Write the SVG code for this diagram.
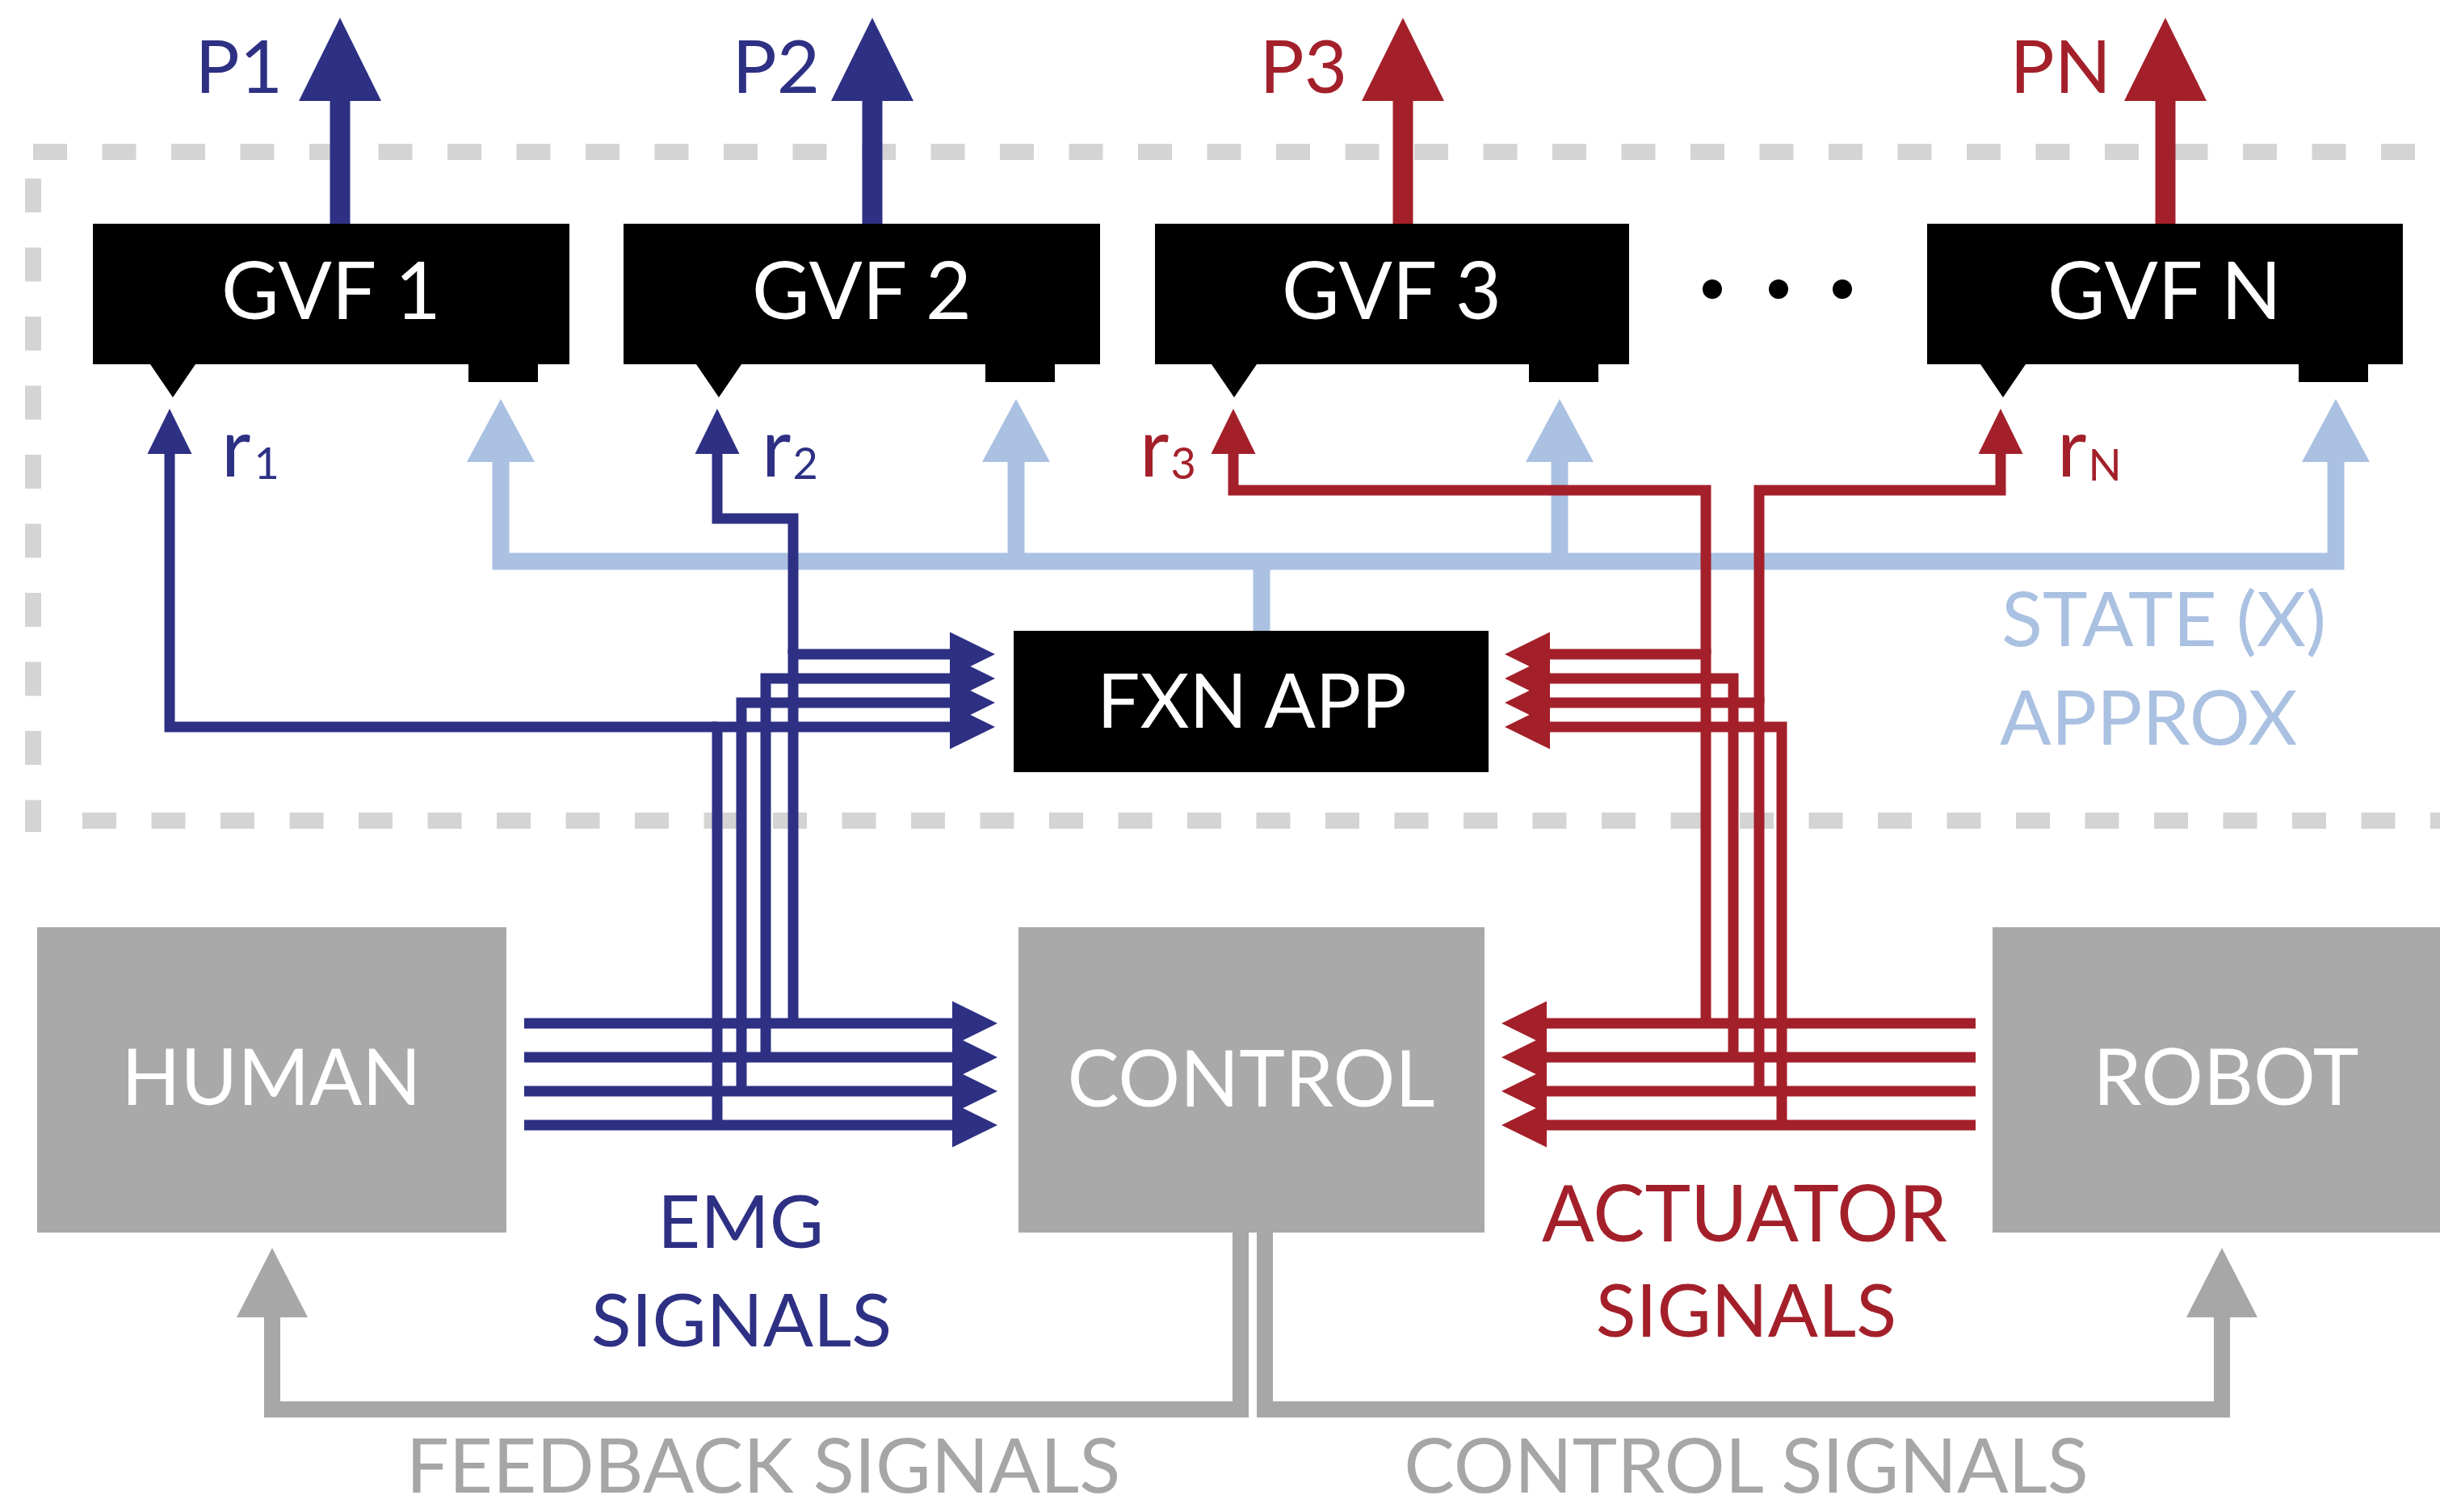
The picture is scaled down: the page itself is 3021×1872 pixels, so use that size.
<svg xmlns="http://www.w3.org/2000/svg" width="3021" height="1872" viewBox="0 0 3021 1872">
<style>
text{font-family:Lato,"Open Sans","Liberation Sans",sans-serif;}
.box{fill:#000;}
.gbox{fill:#a9a9a9;}
.wt{fill:#fff;font-size:98px;text-anchor:middle;}
.gt{fill:#fff;font-size:96px;text-anchor:middle;}
.dash{fill:none;stroke:#d4d4d4;stroke-width:20;stroke-dasharray:42 43.5;}
.wb{fill:none;stroke:#2e3084;stroke-width:13;}
.wr{fill:none;stroke:#a3202a;stroke-width:13;}
.pb{fill:none;stroke:#2e3084;stroke-width:25;}
.pr{fill:none;stroke:#a3202a;stroke-width:25;}
.ws{fill:none;stroke:#aac1e2;stroke-width:21;}
.wg{fill:none;stroke:#a7a7a7;stroke-width:20;}
.tb{fill:#2e3084;}
.tr{fill:#a3202a;}
.lbl{font-size:92px;}
.rl{font-size:100px;}
.sub{font-size:54px;}
.bt{fill:#a6a6a6;font-size:94px;text-anchor:middle;}
</style>
<defs>
<marker id="hPB" markerUnits="userSpaceOnUse" orient="auto" overflow="visible" refX="0" refY="0" markerWidth="1" markerHeight="1"><path d="M-2,-51 L101,0 L-2,51 Z" fill="#2e3084"/></marker>
<marker id="hPR" markerUnits="userSpaceOnUse" orient="auto" overflow="visible" refX="0" refY="0" markerWidth="1" markerHeight="1"><path d="M-2,-51 L101,0 L-2,51 Z" fill="#a3202a"/></marker>
<marker id="hB" markerUnits="userSpaceOnUse" orient="auto" overflow="visible" refX="0" refY="0" markerWidth="1" markerHeight="1"><path d="M-1,-27.5 L55,0 L-1,27.5 Z" fill="#2e3084"/></marker>
<marker id="hR" markerUnits="userSpaceOnUse" orient="auto" overflow="visible" refX="0" refY="0" markerWidth="1" markerHeight="1"><path d="M-1,-27.5 L55,0 L-1,27.5 Z" fill="#a3202a"/></marker>
<marker id="hS" markerUnits="userSpaceOnUse" orient="auto-start-reverse" overflow="visible" refX="0" refY="0" markerWidth="1" markerHeight="1"><path d="M-1,-42 L77,0 L-1,42 Z" fill="#aac1e2"/></marker>
<marker id="hG" markerUnits="userSpaceOnUse" orient="auto" overflow="visible" refX="0" refY="0" markerWidth="1" markerHeight="1"><path d="M-1,-44 L85,0 L-1,44 Z" fill="#a7a7a7"/></marker>
</defs>

<g id="approx-boundary">
<path class="dash" d="M41 188 H3021"/>
<path class="dash" d="M41 221 V1030"/>
<path class="dash" d="M102 1016 H3021"/>
</g>

<g id="connectors">
<path class="ws" d="M620 571 V695 H2892 V571" marker-start="url(#hS)" marker-end="url(#hS)"/>
<path class="ws" d="M1258 695 V571" marker-end="url(#hS)"/>
<path class="ws" d="M1931 695 V571" marker-end="url(#hS)"/>
<path class="ws" d="M1562 695 V781"/>
<path class="pb" d="M421 277 V123" marker-end="url(#hPB)"/>
<path class="pb" d="M1080 277 V123" marker-end="url(#hPB)"/>
<path class="pr" d="M1737 277 V123" marker-end="url(#hPR)"/>
<path class="pr" d="M2681 277 V123" marker-end="url(#hPR)"/>
<path class="wb" d="M649 1267 H1180" marker-end="url(#hB)"/>
<path class="wb" d="M649 1309 H1180" marker-end="url(#hB)"/>
<path class="wb" d="M649 1351 H1180" marker-end="url(#hB)"/>
<path class="wb" d="M649 1393 H1180" marker-end="url(#hB)"/>
<path class="wb" d="M888 1393 V900 H1177" marker-end="url(#hB)"/>
<path class="wb" d="M918 1351 V870 H1177" marker-end="url(#hB)"/>
<path class="wb" d="M948 1309 V840 H1177" marker-end="url(#hB)"/>
<path class="wb" d="M982 1267 V810 H1177" marker-end="url(#hB)"/>
<path class="wb" d="M888 900 H210 V561" marker-end="url(#hB)"/>
<path class="wb" d="M982 810 V642 H888 V561" marker-end="url(#hB)"/>
<path class="wr" d="M2446 1267 H1914" marker-end="url(#hR)"/>
<path class="wr" d="M2446 1309 H1914" marker-end="url(#hR)"/>
<path class="wr" d="M2446 1351 H1914" marker-end="url(#hR)"/>
<path class="wr" d="M2446 1393 H1914" marker-end="url(#hR)"/>
<path class="wr" d="M2112 1267 V810 H1918" marker-end="url(#hR)"/>
<path class="wr" d="M2146 1309 V840 H1918" marker-end="url(#hR)"/>
<path class="wr" d="M2178 1351 V870 H1918" marker-end="url(#hR)"/>
<path class="wr" d="M2206 1393 V900 H1918" marker-end="url(#hR)"/>
<path class="wr" d="M2112 810 V607 H1527 V561" marker-end="url(#hR)"/>
<path class="wr" d="M2178 870 V607 H2477 V561" marker-end="url(#hR)"/>
<path class="wg" d="M1536 1526 V1745 H337 V1630" marker-end="url(#hG)"/>
<path class="wg" d="M1566 1526 V1745 H2751 V1630" marker-end="url(#hG)"/>
</g>

<g id="gvf1">
<path class="box" d="M115 277 H705 V451 H666 V473 H580 V451 H242 L214 492 L186 451 H115 Z"/>
<text class="wt" x="410" y="395">GVF 1</text>
</g>
<g id="gvf2">
<path class="box" d="M772 277 H1362 V451 H1306 V473 H1220 V451 H918 L890 492 L862 451 H772 Z"/>
<text class="wt" x="1067" y="395">GVF 2</text>
</g>
<g id="gvf3">
<path class="box" d="M1430 277 H2017 V451 H1979 V473 H1893 V451 H1556 L1528 492 L1500 451 H1430 Z"/>
<text class="wt" x="1723" y="395">GVF 3</text>
</g>
<g id="ellipsis">
<circle cx="2120" cy="358" r="12"/>
<circle cx="2202" cy="358" r="12"/>
<circle cx="2281" cy="358" r="12"/>
</g>
<g id="gvfn">
<path class="box" d="M2386 277 H2975 V451 H2932 V473 H2846 V451 H2508 L2480 492 L2452 451 H2386 Z"/>
<text class="wt" x="2680" y="395">GVF N</text>
</g>
<g id="fxn-app">
<rect class="box" x="1255" y="781" width="588" height="175"/>
<text class="wt" x="1550" y="901" style="font-size:94px">FXN APP</text>
</g>
<g id="human">
<rect class="gbox" x="46" y="1148" width="581" height="378"/>
<text class="gt" x="336" y="1368">HUMAN</text>
</g>
<g id="control">
<rect class="gbox" x="1261" y="1148" width="577" height="378"/>
<text class="gt" x="1549" y="1370">CONTROL</text>
</g>
<g id="robot">
<rect class="gbox" x="2467" y="1148" width="554" height="378"/>
<text class="gt" x="2756" y="1368">ROBOT</text>
</g>

<g id="labels">
<text class="tb lbl" x="350" y="115" text-anchor="end">P1</text>
<text class="tb lbl" x="1015" y="115" text-anchor="end">P2</text>
<text class="tr lbl" x="1668" y="115" text-anchor="end">P3</text>
<text class="tr lbl" x="2614" y="115" text-anchor="end">PN</text>
<text class="tb rl" x="274" y="590">r<tspan class="sub" dx="4" dy="3">1</tspan></text>
<text class="tb rl" x="943" y="590">r<tspan class="sub" dx="2" dy="3">2</tspan></text>
<text class="tr rl" x="1411" y="590">r<tspan class="sub" dx="2" dy="3">3</tspan></text>
<text class="tr rl" x="2547" y="590">r<tspan class="sub" dx="2" dy="5">N</tspan></text>
<text x="2478" y="800" style="fill:#aac1e2;font-size:94px">STATE (X)</text>
<text x="2476" y="922" style="fill:#aac1e2;font-size:94px">APPROX</text>
<text class="tb lbl" x="917" y="1545" text-anchor="middle">EMG</text>
<text class="tb lbl" x="918" y="1667" text-anchor="middle">SIGNALS</text>
<text class="tr" x="2160" y="1537" text-anchor="middle" style="font-size:96px">ACTUATOR</text>
<text class="tr lbl" x="2162" y="1655" text-anchor="middle">SIGNALS</text>
<text class="bt" x="945" y="1848">FEEDBACK SIGNALS</text>
<text class="bt" x="2162" y="1848">CONTROL SIGNALS</text>
</g>
</svg>
